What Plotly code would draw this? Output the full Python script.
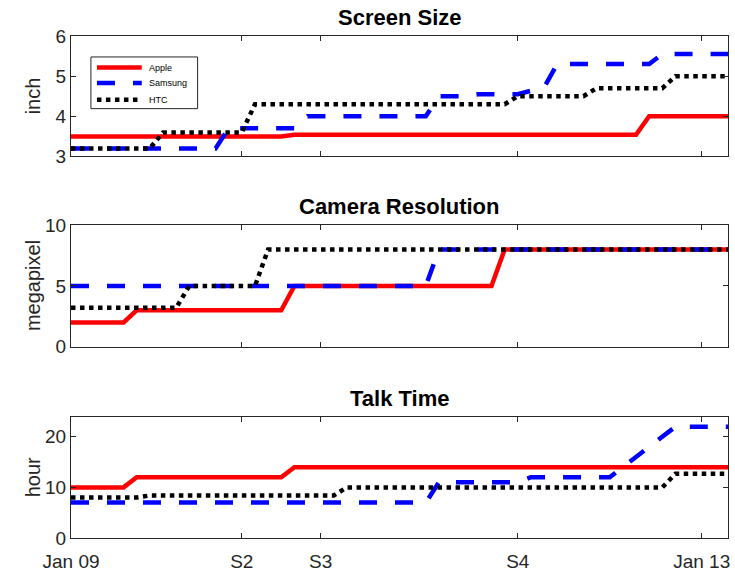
import plotly.graph_objects as go

# Timeline in months since Jan 2009
tick_vals = [0, 13, 19, 34, 48]
tick_text = ["Jan 09", "S2", "S3", "S4", "Jan 13"]
x_max = 50

# Screen size (inch)
apple_screen_x = [0, 16, 17, 43, 44, 50]
apple_screen_y = [3.5, 3.5, 3.54, 3.54, 4.0, 4.0]
samsung_screen_x = [0, 11, 12, 17, 18, 27, 28, 30, 31, 34, 36, 37, 44, 45, 50]
samsung_screen_y = [3.2, 3.2, 3.7, 3.7, 4.0, 4.0, 4.5, 4.5, 4.55, 4.55, 4.72, 5.3, 5.3, 5.55, 5.55]
htc_screen_x = [0, 6, 7, 13, 14, 33, 34, 39, 40, 45, 46, 50]
htc_screen_y = [3.2, 3.2, 3.6, 3.6, 4.3, 4.3, 4.5, 4.5, 4.7, 4.7, 5.0, 5.0]

# Camera resolution (megapixel)
apple_cam_x = [0, 4, 5, 16, 17, 32, 33, 50]
apple_cam_y = [2, 2, 3, 3, 5, 5, 8, 8]
samsung_cam_x = [0, 27, 28, 50]
samsung_cam_y = [5, 5, 8, 8]
htc_cam_x = [0, 8, 9, 14, 15, 50]
htc_cam_y = [3.2, 3.2, 5, 5, 8, 8]

# Talk time (hour)
apple_talk_x = [0, 4, 5, 16, 17, 50]
apple_talk_y = [10, 10, 12, 12, 14, 14]
samsung_talk_x = [0, 27, 28, 34, 35, 41, 46, 50]
samsung_talk_y = [7, 7, 11, 11, 12, 12, 22, 22]
htc_talk_x = [0, 5, 6, 20, 21, 45, 46, 50]
htc_talk_y = [8, 8, 8.4, 8.4, 10, 10, 12.7, 12.7]

brands = ["Apple", "Samsung", "HTC"]
colors = ["#ff0000", "#0000ff", "#000000"]
dashes = ["solid", "18px,18px", "4.5px,4.5px"]
LW = 4.5

panels = [
    ("Screen Size", "inch", [3, 6], [3, 4, 5, 6],
     [(apple_screen_x, apple_screen_y), (samsung_screen_x, samsung_screen_y), (htc_screen_x, htc_screen_y)]),
    ("Camera Resolution", "megapixel", [0, 10], [0, 5, 10],
     [(apple_cam_x, apple_cam_y), (samsung_cam_x, samsung_cam_y), (htc_cam_x, htc_cam_y)]),
    ("Talk Time", "hour", [0, 24], [0, 10, 20],
     [(apple_talk_x, apple_talk_y), (samsung_talk_x, samsung_talk_y), (htc_talk_x, htc_talk_y)]),
]

# vertical domains of the three panels (paper fraction)
domains = [[0.760, 1.0], [0.381, 0.623], [0.0, 0.242]]

FONT = "Liberation Sans, Arial, Helvetica, sans-serif"
AXC = "#262626"
TICK_SIZE = 19

fig = go.Figure()
layout = dict(
    width=735, height=577,
    margin=dict(l=71, r=5, t=36, b=37),
    paper_bgcolor="white", plot_bgcolor="white",
    showlegend=False,
    font=dict(family=FONT, color=AXC),
)
annotations = []

for i, (title, ylabel, yr, yt, series) in enumerate(panels):
    n = "" if i == 0 else str(i + 1)
    for b, (xs, ys) in enumerate(series):
        fig.add_trace(go.Scatter(
            x=xs, y=ys, mode="lines", name=brands[b],
            line=dict(color=colors[b], width=LW, dash=dashes[b]),
            xaxis="x" + n, yaxis="y" + n, cliponaxis=True,
        ))
    layout["xaxis" + n] = dict(
        domain=[0, 1], range=[0, x_max], anchor="y" + n,
        tickmode="array", tickvals=tick_vals,
        ticktext=tick_text if i == 2 else [""] * len(tick_vals),
        ticks="inside", ticklen=5, tickcolor=AXC, tickwidth=1,
        showline=True, linecolor=AXC, linewidth=1, mirror="ticks",
        showgrid=False, zeroline=False, ticklabelstandoff=6,
        tickfont=dict(size=TICK_SIZE, family=FONT, color=AXC),
    )
    layout["yaxis" + n] = dict(
        domain=domains[i], range=yr, anchor="x" + n,
        tickmode="array", tickvals=yt,
        ticks="inside", ticklen=5, tickcolor=AXC, tickwidth=1,
        showline=True, linecolor=AXC, linewidth=1, mirror="ticks",
        showgrid=False, zeroline=False,
        tickfont=dict(size=TICK_SIZE, family=FONT, color=AXC),
    )
    # y label, aligned at the same x for all panels
    annotations.append(dict(
        text=ylabel, xref="paper", yref="y" + n + " domain",
        x=-0.0577, y=0.5, xanchor="center", yanchor="middle", textangle=-90,
        showarrow=False, font=dict(size=20, family=FONT, color=AXC),
    ))
    annotations.append(dict(
        text="<b>" + title + "</b>", xref="x" + n + " domain", yref="y" + n + " domain",
        x=0.5, y=1.0, yshift=4, xanchor="center", yanchor="bottom", showarrow=False,
        font=dict(size=22, family=FONT, color="#000000"),
    ))

# legend box inside the first panel
shapes = [dict(type="rect", xref="x domain", yref="y domain",
               x0=0.0303, x1=0.1927, y0=0.397, y1=0.826,
               line=dict(color=AXC, width=1), fillcolor="white", layer="above")]
row_y = [0.738, 0.609, 0.471]
for b in range(3):
    shapes.append(dict(type="line", xref="x domain", yref="y domain",
                       x0=0.0395, x1=0.1077, y0=row_y[b], y1=row_y[b],
                       line=dict(color=colors[b], width=LW, dash=dashes[b]), layer="above"))
    annotations.append(dict(text=brands[b], xref="x domain", yref="y domain",
                            x=0.1153, y=row_y[b], xanchor="left", yanchor="middle",
                            showarrow=False, font=dict(size=9, family=FONT, color="#000000")))

layout["shapes"] = shapes
layout["annotations"] = annotations
fig.update_layout(**layout)
fig.write_html("out.html")
